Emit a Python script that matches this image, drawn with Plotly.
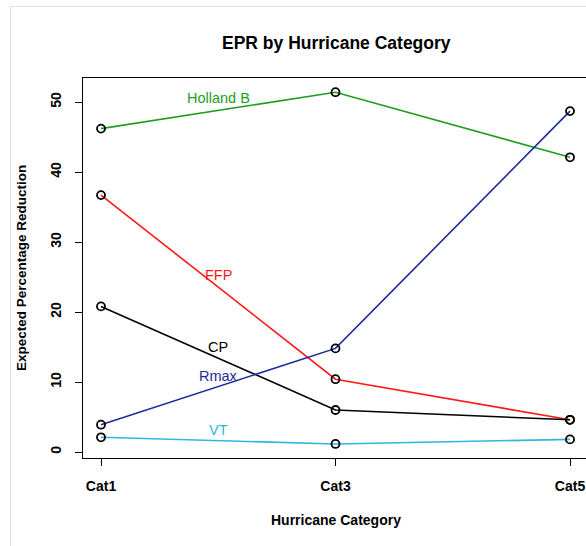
import plotly.graph_objects as go

categories = ["Cat1", "Cat3", "Cat5"]
holland_b = [46.2, 51.4, 42.1]
ffp = [36.7, 10.4, 4.6]
cp = [20.8, 6.0, 4.6]
rmax = [3.9, 14.8, 48.7]
vt = [2.1, 1.15, 1.8]

series_names = ["Holland B", "FFP", "CP", "Rmax", "VT"]
series_values = [holland_b, ffp, cp, rmax, vt]
series_colors = ["#1E9E1E", "#FF1A1A", "#000000", "#1C2A9C", "#2EB8DC"]
label_x = [0.5, 0.5, 0.5, 0.5, 0.5]
label_y = [50.6, 25.3, 15.0, 10.9, 3.1]

y_ticks = [0, 10, 20, 30, 40, 50]

FONT = "Liberation Sans, Arial, sans-serif"

fig = go.Figure()
for name, vals, col in zip(series_names, series_values, series_colors):
    fig.add_trace(go.Scatter(
        x=categories, y=vals, mode="lines+markers", name=name,
        line=dict(color=col, width=1.6),
        marker=dict(symbol="circle-open", size=8, color="black",
                    line=dict(color="black", width=1.8)),
        showlegend=False, cliponaxis=False,
    ))

annotations = []
for name, lx, ly, col in zip(series_names, label_x, label_y, series_colors):
    annotations.append(dict(x=lx, y=ly, xref="x", yref="y", text=name,
                            showarrow=False, font=dict(family=FONT, size=14.5, color=col)))

# titles
annotations.append(dict(x=(336 - 83) / 503, y=1 + (78 - 43) / 380, xref="paper", yref="paper",
                        text="<b>EPR by Hurricane Category</b>", showarrow=False,
                        font=dict(family=FONT, size=17.5, color="black"),
                        xanchor="center", yanchor="middle"))
annotations.append(dict(x=(336 - 83) / 503, y=-(520 - 458) / 380, xref="paper", yref="paper",
                        text="<b>Hurricane Category</b>", showarrow=False,
                        font=dict(family=FONT, size=14, color="black"),
                        xanchor="center", yanchor="middle"))
annotations.append(dict(x=-(83 - 21) / 503, y=0.5, xref="paper", yref="paper",
                        text="<b>Expected Percentage Reduction</b>", showarrow=False,
                        textangle=-90,
                        font=dict(family=FONT, size=13.5, color="black"),
                        xanchor="center", yanchor="middle"))

shapes = [
    dict(type="line", xref="paper", yref="paper", x0=-(83 - 10.5) / 503, x1=-(83 - 10.5) / 503,
         y0=1 + (78 - 6) / 380, y1=-(546 - 458) / 380, line=dict(color="#E2E2E2", width=1)),
    dict(type="line", xref="paper", yref="paper", x0=-(83 - 10.5) / 503, x1=1.02,
         y0=1 + (78 - 6.5) / 380, y1=1 + (78 - 6.5) / 380, line=dict(color="#E2E2E2", width=1)),
]

fig.update_layout(
    width=586, height=546,
    margin=dict(l=83, r=0, t=78, b=88, autoexpand=False),
    paper_bgcolor="white", plot_bgcolor="white",
    font=dict(family=FONT, color="black"),
    annotations=annotations, shapes=shapes,
)
fig.update_xaxes(
    type="category", range=[-18 / 234.5, 2 + 16 / 234.5],
    showgrid=False, zeroline=False,
    showline=True, linecolor="black", linewidth=1.2, mirror=True,
    ticks="outside", ticklen=7, tickwidth=1, tickcolor="black",
    tickfont=dict(family=FONT, size=14, color="black"),
    tickprefix="<b>", ticksuffix="</b>",
    ticklabelstandoff=8,
)
fig.update_yaxes(
    range=[-6 / 7, 374 / 7],
    tickvals=y_ticks, ticktext=[f"<b>{v}</b>" for v in y_ticks],
    showgrid=False, zeroline=False,
    showline=True, linecolor="black", linewidth=1.2, mirror=False,
    ticks="outside", ticklen=7, tickwidth=1, tickcolor="black",
    tickfont=dict(family=FONT, size=14, color="black"),
    tickangle=-90,
    ticklabelstandoff=8,
)

fig.write_html("out.html", config={"displayModeBar": False},
               post_script="document.body.style.margin='0';document.body.style.overflow='hidden';")
